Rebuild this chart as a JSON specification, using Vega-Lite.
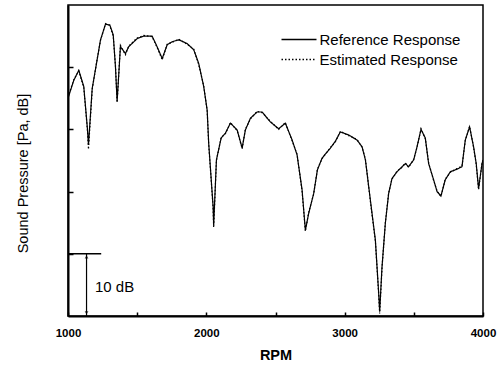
{
  "$schema": "https://vega.github.io/schema/vega-lite/v6.json",
  "width": 415,
  "height": 311,
  "autosize": "none",
  "padding": {"left": 68, "top": 5, "right": 18, "bottom": 49},
  "config": {
    "font": "Liberation Sans",
    "view": {"stroke": "black", "strokeWidth": 1.5},
    "axis": {"grid": false, "domainColor": "black", "tickColor": "black", "labelColor": "black", "titleColor": "black"}
  },
  "layer": [
    {
      "data": {"values": [
        {"rpm": 1000, "db": 35.0, "series": "Reference Response"},
        {"rpm": 1042, "db": 37.9, "series": "Reference Response"},
        {"rpm": 1078, "db": 39.5, "series": "Reference Response"},
        {"rpm": 1114, "db": 36.9, "series": "Reference Response"},
        {"rpm": 1140, "db": 30.2, "series": "Reference Response"},
        {"rpm": 1148, "db": 27.5, "series": "Reference Response"},
        {"rpm": 1175, "db": 36.6, "series": "Reference Response"},
        {"rpm": 1206, "db": 40.6, "series": "Reference Response"},
        {"rpm": 1235, "db": 44.4, "series": "Reference Response"},
        {"rpm": 1271, "db": 46.9, "series": "Reference Response"},
        {"rpm": 1302, "db": 46.8, "series": "Reference Response"},
        {"rpm": 1327, "db": 45.2, "series": "Reference Response"},
        {"rpm": 1343, "db": 40.1, "series": "Reference Response"},
        {"rpm": 1355, "db": 34.5, "series": "Reference Response"},
        {"rpm": 1379, "db": 43.3, "series": "Reference Response"},
        {"rpm": 1415, "db": 42.2, "series": "Reference Response"},
        {"rpm": 1439, "db": 43.3, "series": "Reference Response"},
        {"rpm": 1500, "db": 44.6, "series": "Reference Response"},
        {"rpm": 1548, "db": 45.0, "series": "Reference Response"},
        {"rpm": 1608, "db": 45.0, "series": "Reference Response"},
        {"rpm": 1644, "db": 43.3, "series": "Reference Response"},
        {"rpm": 1681, "db": 41.4, "series": "Reference Response"},
        {"rpm": 1717, "db": 43.6, "series": "Reference Response"},
        {"rpm": 1753, "db": 44.1, "series": "Reference Response"},
        {"rpm": 1801, "db": 44.4, "series": "Reference Response"},
        {"rpm": 1861, "db": 43.8, "series": "Reference Response"},
        {"rpm": 1909, "db": 42.8, "series": "Reference Response"},
        {"rpm": 1945, "db": 40.6, "series": "Reference Response"},
        {"rpm": 1981, "db": 36.9, "series": "Reference Response"},
        {"rpm": 2006, "db": 33.1, "series": "Reference Response"},
        {"rpm": 2017, "db": 27.8, "series": "Reference Response"},
        {"rpm": 2049, "db": 17.6, "series": "Reference Response"},
        {"rpm": 2053, "db": 14.6, "series": "Reference Response"},
        {"rpm": 2073, "db": 25.1, "series": "Reference Response"},
        {"rpm": 2107, "db": 28.6, "series": "Reference Response"},
        {"rpm": 2138, "db": 29.4, "series": "Reference Response"},
        {"rpm": 2174, "db": 31.0, "series": "Reference Response"},
        {"rpm": 2223, "db": 29.9, "series": "Reference Response"},
        {"rpm": 2259, "db": 27.0, "series": "Reference Response"},
        {"rpm": 2282, "db": 29.9, "series": "Reference Response"},
        {"rpm": 2319, "db": 31.8, "series": "Reference Response"},
        {"rpm": 2367, "db": 32.8, "series": "Reference Response"},
        {"rpm": 2403, "db": 32.8, "series": "Reference Response"},
        {"rpm": 2463, "db": 31.2, "series": "Reference Response"},
        {"rpm": 2523, "db": 30.1, "series": "Reference Response"},
        {"rpm": 2571, "db": 31.0, "series": "Reference Response"},
        {"rpm": 2620, "db": 28.3, "series": "Reference Response"},
        {"rpm": 2656, "db": 25.9, "series": "Reference Response"},
        {"rpm": 2692, "db": 20.3, "series": "Reference Response"},
        {"rpm": 2716, "db": 13.8, "series": "Reference Response"},
        {"rpm": 2740, "db": 16.5, "series": "Reference Response"},
        {"rpm": 2776, "db": 19.7, "series": "Reference Response"},
        {"rpm": 2803, "db": 23.5, "series": "Reference Response"},
        {"rpm": 2837, "db": 25.4, "series": "Reference Response"},
        {"rpm": 2897, "db": 27.0, "series": "Reference Response"},
        {"rpm": 2933, "db": 28.1, "series": "Reference Response"},
        {"rpm": 2969, "db": 29.6, "series": "Reference Response"},
        {"rpm": 3029, "db": 29.1, "series": "Reference Response"},
        {"rpm": 3089, "db": 28.3, "series": "Reference Response"},
        {"rpm": 3126, "db": 27.2, "series": "Reference Response"},
        {"rpm": 3150, "db": 25.1, "series": "Reference Response"},
        {"rpm": 3186, "db": 18.6, "series": "Reference Response"},
        {"rpm": 3222, "db": 12.2, "series": "Reference Response"},
        {"rpm": 3246, "db": 3.6, "series": "Reference Response"},
        {"rpm": 3253, "db": 0.7, "series": "Reference Response"},
        {"rpm": 3270, "db": 7.9, "series": "Reference Response"},
        {"rpm": 3294, "db": 14.9, "series": "Reference Response"},
        {"rpm": 3318, "db": 19.7, "series": "Reference Response"},
        {"rpm": 3342, "db": 22.1, "series": "Reference Response"},
        {"rpm": 3379, "db": 23.2, "series": "Reference Response"},
        {"rpm": 3415, "db": 24.0, "series": "Reference Response"},
        {"rpm": 3439, "db": 24.5, "series": "Reference Response"},
        {"rpm": 3462, "db": 24.0, "series": "Reference Response"},
        {"rpm": 3499, "db": 25.1, "series": "Reference Response"},
        {"rpm": 3523, "db": 27.2, "series": "Reference Response"},
        {"rpm": 3552, "db": 30.0, "series": "Reference Response"},
        {"rpm": 3583, "db": 28.6, "series": "Reference Response"},
        {"rpm": 3607, "db": 24.5, "series": "Reference Response"},
        {"rpm": 3643, "db": 21.9, "series": "Reference Response"},
        {"rpm": 3668, "db": 20.0, "series": "Reference Response"},
        {"rpm": 3696, "db": 19.3, "series": "Reference Response"},
        {"rpm": 3727, "db": 21.9, "series": "Reference Response"},
        {"rpm": 3764, "db": 23.2, "series": "Reference Response"},
        {"rpm": 3812, "db": 23.6, "series": "Reference Response"},
        {"rpm": 3848, "db": 24.0, "series": "Reference Response"},
        {"rpm": 3872, "db": 28.3, "series": "Reference Response"},
        {"rpm": 3903, "db": 30.4, "series": "Reference Response"},
        {"rpm": 3932, "db": 27.2, "series": "Reference Response"},
        {"rpm": 3951, "db": 24.5, "series": "Reference Response"},
        {"rpm": 3968, "db": 20.5, "series": "Reference Response"},
        {"rpm": 3993, "db": 24.5, "series": "Reference Response"},
        {"rpm": 4000, "db": 25.1, "series": "Reference Response"},
        {"rpm": 1000, "db": 35.2, "series": "Estimated Response"},
        {"rpm": 1042, "db": 38.0, "series": "Estimated Response"},
        {"rpm": 1078, "db": 39.4, "series": "Estimated Response"},
        {"rpm": 1114, "db": 36.7, "series": "Estimated Response"},
        {"rpm": 1140, "db": 30.0, "series": "Estimated Response"},
        {"rpm": 1148, "db": 26.8, "series": "Estimated Response"},
        {"rpm": 1175, "db": 36.4, "series": "Estimated Response"},
        {"rpm": 1206, "db": 40.7, "series": "Estimated Response"},
        {"rpm": 1235, "db": 44.3, "series": "Estimated Response"},
        {"rpm": 1271, "db": 47.0, "series": "Estimated Response"},
        {"rpm": 1302, "db": 46.7, "series": "Estimated Response"},
        {"rpm": 1327, "db": 45.0, "series": "Estimated Response"},
        {"rpm": 1343, "db": 40.3, "series": "Estimated Response"},
        {"rpm": 1355, "db": 34.3, "series": "Estimated Response"},
        {"rpm": 1379, "db": 43.5, "series": "Estimated Response"},
        {"rpm": 1415, "db": 42.0, "series": "Estimated Response"},
        {"rpm": 1439, "db": 43.4, "series": "Estimated Response"},
        {"rpm": 1500, "db": 44.7, "series": "Estimated Response"},
        {"rpm": 1548, "db": 45.1, "series": "Estimated Response"},
        {"rpm": 1608, "db": 44.9, "series": "Estimated Response"},
        {"rpm": 1644, "db": 43.2, "series": "Estimated Response"},
        {"rpm": 1681, "db": 41.2, "series": "Estimated Response"},
        {"rpm": 1717, "db": 43.7, "series": "Estimated Response"},
        {"rpm": 1753, "db": 44.0, "series": "Estimated Response"},
        {"rpm": 1801, "db": 44.5, "series": "Estimated Response"},
        {"rpm": 1861, "db": 43.7, "series": "Estimated Response"},
        {"rpm": 1909, "db": 42.9, "series": "Estimated Response"},
        {"rpm": 1945, "db": 40.4, "series": "Estimated Response"},
        {"rpm": 1981, "db": 37.0, "series": "Estimated Response"},
        {"rpm": 2006, "db": 33.0, "series": "Estimated Response"},
        {"rpm": 2017, "db": 27.6, "series": "Estimated Response"},
        {"rpm": 2049, "db": 17.4, "series": "Estimated Response"},
        {"rpm": 2053, "db": 14.2, "series": "Estimated Response"},
        {"rpm": 2073, "db": 25.0, "series": "Estimated Response"},
        {"rpm": 2107, "db": 28.7, "series": "Estimated Response"},
        {"rpm": 2138, "db": 29.3, "series": "Estimated Response"},
        {"rpm": 2174, "db": 31.1, "series": "Estimated Response"},
        {"rpm": 2223, "db": 29.8, "series": "Estimated Response"},
        {"rpm": 2259, "db": 26.9, "series": "Estimated Response"},
        {"rpm": 2282, "db": 30.0, "series": "Estimated Response"},
        {"rpm": 2319, "db": 31.7, "series": "Estimated Response"},
        {"rpm": 2367, "db": 32.9, "series": "Estimated Response"},
        {"rpm": 2403, "db": 32.7, "series": "Estimated Response"},
        {"rpm": 2463, "db": 31.3, "series": "Estimated Response"},
        {"rpm": 2523, "db": 30.0, "series": "Estimated Response"},
        {"rpm": 2571, "db": 31.1, "series": "Estimated Response"},
        {"rpm": 2620, "db": 28.2, "series": "Estimated Response"},
        {"rpm": 2656, "db": 26.0, "series": "Estimated Response"},
        {"rpm": 2692, "db": 20.1, "series": "Estimated Response"},
        {"rpm": 2716, "db": 13.6, "series": "Estimated Response"},
        {"rpm": 2740, "db": 16.7, "series": "Estimated Response"},
        {"rpm": 2776, "db": 19.6, "series": "Estimated Response"},
        {"rpm": 2803, "db": 23.6, "series": "Estimated Response"},
        {"rpm": 2837, "db": 25.3, "series": "Estimated Response"},
        {"rpm": 2897, "db": 27.1, "series": "Estimated Response"},
        {"rpm": 2933, "db": 28.0, "series": "Estimated Response"},
        {"rpm": 2969, "db": 29.7, "series": "Estimated Response"},
        {"rpm": 3029, "db": 29.0, "series": "Estimated Response"},
        {"rpm": 3089, "db": 28.4, "series": "Estimated Response"},
        {"rpm": 3126, "db": 27.1, "series": "Estimated Response"},
        {"rpm": 3150, "db": 25.2, "series": "Estimated Response"},
        {"rpm": 3186, "db": 18.4, "series": "Estimated Response"},
        {"rpm": 3222, "db": 12.0, "series": "Estimated Response"},
        {"rpm": 3246, "db": 3.4, "series": "Estimated Response"},
        {"rpm": 3253, "db": 0.4, "series": "Estimated Response"},
        {"rpm": 3270, "db": 7.7, "series": "Estimated Response"},
        {"rpm": 3294, "db": 15.0, "series": "Estimated Response"},
        {"rpm": 3318, "db": 19.8, "series": "Estimated Response"},
        {"rpm": 3342, "db": 22.0, "series": "Estimated Response"},
        {"rpm": 3379, "db": 23.3, "series": "Estimated Response"},
        {"rpm": 3415, "db": 23.9, "series": "Estimated Response"},
        {"rpm": 3439, "db": 24.6, "series": "Estimated Response"},
        {"rpm": 3462, "db": 23.9, "series": "Estimated Response"},
        {"rpm": 3499, "db": 25.2, "series": "Estimated Response"},
        {"rpm": 3523, "db": 27.1, "series": "Estimated Response"},
        {"rpm": 3552, "db": 30.1, "series": "Estimated Response"},
        {"rpm": 3583, "db": 28.5, "series": "Estimated Response"},
        {"rpm": 3607, "db": 24.6, "series": "Estimated Response"},
        {"rpm": 3643, "db": 21.8, "series": "Estimated Response"},
        {"rpm": 3668, "db": 20.1, "series": "Estimated Response"},
        {"rpm": 3696, "db": 19.2, "series": "Estimated Response"},
        {"rpm": 3727, "db": 22.0, "series": "Estimated Response"},
        {"rpm": 3764, "db": 23.1, "series": "Estimated Response"},
        {"rpm": 3812, "db": 23.7, "series": "Estimated Response"},
        {"rpm": 3848, "db": 24.1, "series": "Estimated Response"},
        {"rpm": 3872, "db": 28.2, "series": "Estimated Response"},
        {"rpm": 3903, "db": 30.5, "series": "Estimated Response"},
        {"rpm": 3932, "db": 27.1, "series": "Estimated Response"},
        {"rpm": 3951, "db": 24.4, "series": "Estimated Response"},
        {"rpm": 3968, "db": 20.3, "series": "Estimated Response"},
        {"rpm": 3993, "db": 24.6, "series": "Estimated Response"},
        {"rpm": 4000, "db": 25.0, "series": "Estimated Response"}
      ]},
      "mark": {"type": "line", "color": "black", "strokeWidth": 1.2, "clip": true},
      "encoding": {
        "x": {
          "field": "rpm", "type": "quantitative",
          "scale": {"domain": [1000, 4000], "nice": false, "zero": false},
          "axis": {
            "title": "RPM", "titleFontSize": 14.5, "titleFontWeight": "bold", "titlePadding": 10,
            "values": [1000, 1500, 2000, 2500, 3000, 3500, 4000],
            "format": "d",
            "labelExpr": "datum.value % 1000 === 0 ? datum.label : ''",
            "labelFlush": false, "labelOverlap": false,
            "labelFontSize": 11.5, "labelFontWeight": "bold", "labelPadding": 15,
            "tickSize": -4, "domainWidth": 2, "tickWidth": 1.5
          }
        },
        "y": {
          "field": "db", "type": "quantitative",
          "scale": {"domain": [0, 50], "nice": false},
          "axis": {
            "title": "Sound Pressure [Pa, dB]", "titleFontSize": 14.5, "titleFontWeight": "normal",
            "titleX": -38, "titleY": 168,
            "values": [10, 20, 30, 40], "labels": false,
            "tickSize": -5, "domainWidth": 2, "tickWidth": 1.5
          }
        },
        "strokeDash": {
          "field": "series", "type": "nominal",
          "scale": {"domain": ["Reference Response", "Estimated Response"], "range": [[1, 0], [1.5, 2]]},
          "legend": {
            "title": null, "orient": "none", "legendX": 223.5, "legendY": 27,
            "symbolType": "M-3.5,0H3.5", "symbolSize": 100, "symbolStrokeWidth": 1.3, "symbolStrokeColor": "black",
            "labelFontSize": 15, "labelColor": "black", "rowPadding": 4, "labelOffset": 13
          }
        },
        "detail": {"field": "series"}
      }
    },
    {
      "data": {"values": [{"x": 1000, "x2": 1240, "y": 10}]},
      "mark": {"type": "rule", "color": "black", "strokeWidth": 1.5},
      "encoding": {
        "x": {"field": "x", "type": "quantitative"},
        "x2": {"field": "x2"},
        "y": {"field": "y", "type": "quantitative"}
      }
    },
    {
      "data": {"values": [{"x": 1134, "y": 0, "y2": 10}]},
      "mark": {"type": "rule", "color": "black", "strokeWidth": 1.2},
      "encoding": {
        "x": {"field": "x", "type": "quantitative"},
        "y": {"field": "y", "type": "quantitative"},
        "y2": {"field": "y2"}
      }
    },
    {
      "data": {"values": [{"x": 1134, "y": 9.5, "s": "triangle-up"}, {"x": 1134, "y": 0.5, "s": "triangle-down"}]},
      "mark": {"type": "point", "filled": true, "color": "black", "size": 14},
      "encoding": {
        "x": {"field": "x", "type": "quantitative"},
        "y": {"field": "y", "type": "quantitative"},
        "shape": {"field": "s", "type": "nominal", "scale": {"domain": ["triangle-up", "triangle-down"], "range": ["triangle-up", "triangle-down"]}, "legend": null}
      }
    },
    {
      "data": {"values": [{"x": 1195, "y": 4.6, "t": "10 dB"}]},
      "mark": {"type": "text", "align": "left", "baseline": "middle", "fontSize": 15, "color": "black"},
      "encoding": {
        "x": {"field": "x", "type": "quantitative"},
        "y": {"field": "y", "type": "quantitative"},
        "text": {"field": "t"}
      }
    }
  ]
}
